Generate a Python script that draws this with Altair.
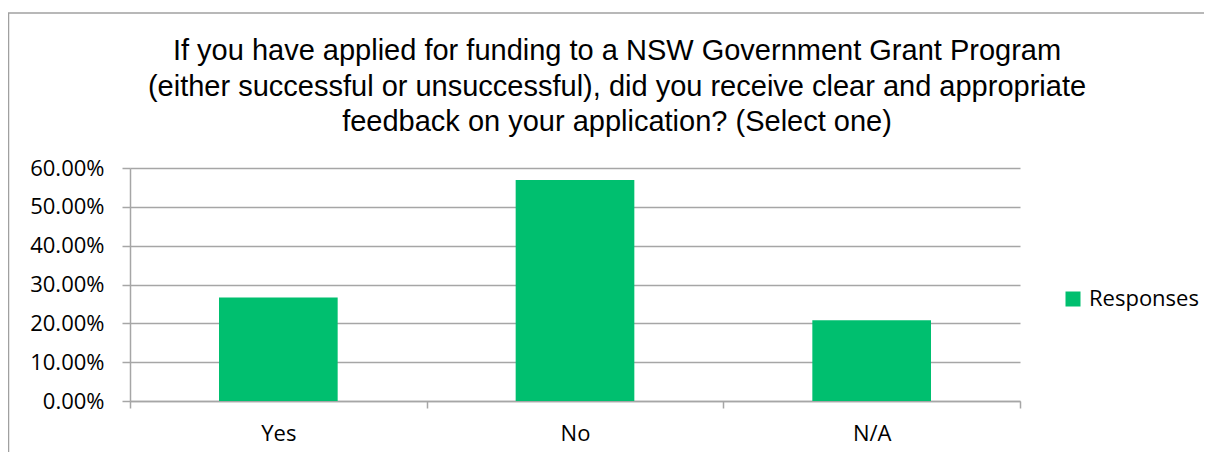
import altair as alt
import pandas as pd

categories = ["Yes", "No", "N/A"]
values = [0.2667, 0.5692, 0.2077]
series = ["Responses", "Responses", "Responses"]
y_ticks = [0.0, 0.1, 0.2, 0.3, 0.4, 0.5, 0.6]
title_lines = [
    "If you have applied for funding to a NSW Government Grant Program",
    "(either successful or unsuccessful), did you receive clear and appropriate",
    "feedback on your application? (Select one)",
]

df = pd.DataFrame({"answer": categories, "pct": values, "series": series})

GREEN = "#00BF6F"
GRID = "#A6A6A6"
LABEL_FONT = "Open Sans"
LABEL_SIZE = 22

bars = alt.Chart(df).mark_bar(width=alt.RelativeBandSize(0.4)).encode(
    x=alt.X(
        "answer:N",
        sort=categories,
        scale=alt.Scale(paddingInner=0, paddingOuter=0),
        axis=alt.Axis(
            title=None, labelAngle=0, tickBand="extent", grid=False,
            domainColor=GRID, domainWidth=1.5, tickColor=GRID, tickWidth=1.5,
            tickSize=7, labelPadding=15, labelFont=LABEL_FONT,
            labelFontSize=LABEL_SIZE, labelColor="black",
        ),
    ),
    y=alt.Y(
        "pct:Q",
        scale=alt.Scale(domain=[0, 0.6], nice=False),
        axis=alt.Axis(
            title=None, format=".2%", values=y_ticks, grid=True, gridColor=GRID,
            gridWidth=1.5, domainColor=GRID, domainWidth=1.5, tickColor=GRID,
            tickWidth=1.5, tickSize=8, labelPadding=18, labelFont=LABEL_FONT,
            labelFontSize=LABEL_SIZE, labelColor="black",
        ),
    ),
    color=alt.Color(
        "series:N",
        scale=alt.Scale(range=[GREEN]),
        legend=alt.Legend(
            title=None, orient="none", legendX=932, legendY=120,
            symbolType="square", symbolSize=225, symbolStrokeWidth=0,
            labelFont=LABEL_FONT, labelFontSize=LABEL_SIZE, labelColor="black",
            labelOffset=5,
        ),
    ),
)

frame = alt.Data(values=[{"k": 1}])
top_line = alt.Chart(frame).mark_rule(color="#A0A0A0", strokeWidth=1.5).encode(
    x=alt.value(-122), x2=alt.value(1100), y=alt.value(-155)
)
left_line = alt.Chart(frame).mark_rule(color="#A0A0A0", strokeWidth=1.5).encode(
    x=alt.value(-121.5), y=alt.value(-155), y2=alt.value(300)
)
title = alt.Chart(frame).mark_text(
    font="Liberation Sans", fontSize=29, color="black", align="center",
    baseline="alphabetic", lineHeight=35.5,
).encode(
    x=alt.value(487), y=alt.value(-108), text=alt.value(title_lines)
)

chart = alt.layer(bars, top_line, left_line, title).properties(
    width=890,
    height=233,
    padding={"left": 122, "top": 160, "right": 184, "bottom": 51},
    autosize=alt.AutoSizeParams(type="none"),
).configure_view(stroke=None)

chart.save("out.html", embed_options={"renderer": "svg", "actions": False})
